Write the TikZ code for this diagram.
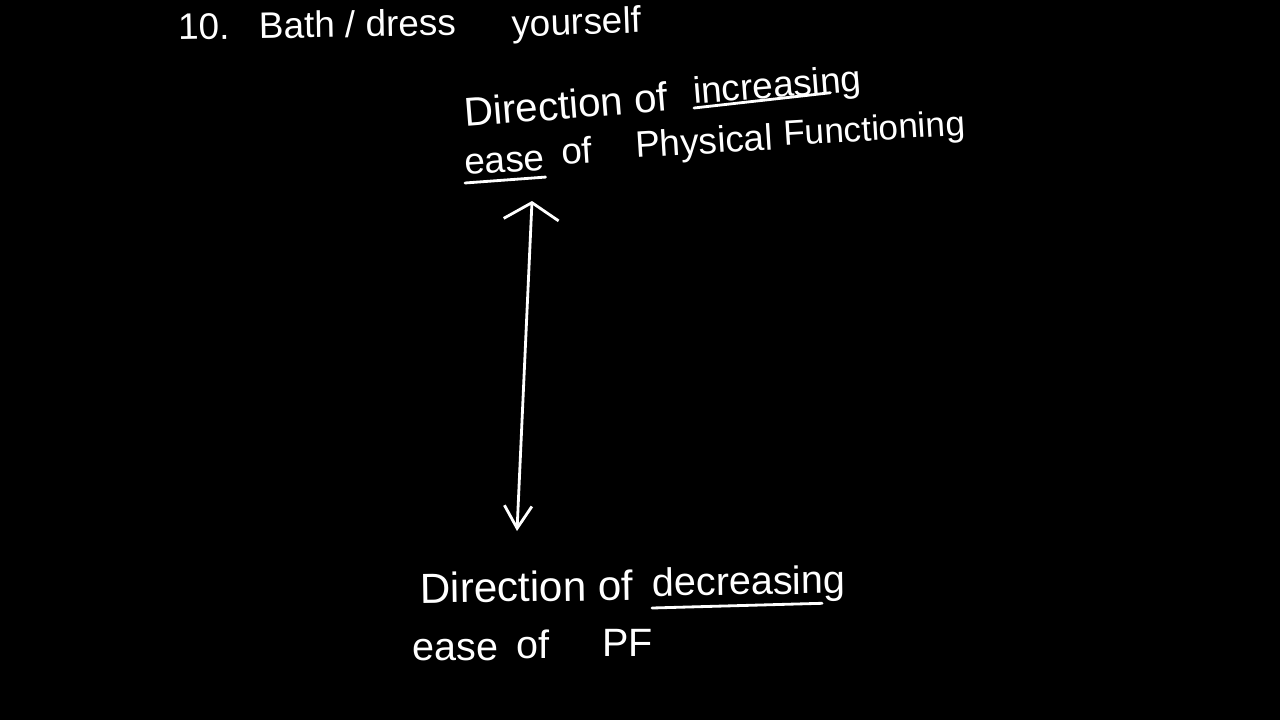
\documentclass[tikz,border=0pt]{standalone}
\usepackage{fontspec}
\setmainfont{Liberation Sans}
\usetikzlibrary{arrows.meta}
\begin{document}
\begin{tikzpicture}[x=0.02cm,y=-0.02cm,
  hand/.style={text=white,inner sep=0pt,anchor=base west,font=\fontsize{21}{25}\selectfont},
  big/.style={hand,font=\fontsize{22.5}{26}\selectfont},
  ink/.style={draw=white,line width=1.6pt,line cap=round}]
\fill[black] (0,0) rectangle (1280,720);
\useasboundingbox (0,0) rectangle (1280,720);
% top line
\node[hand,rotate=1] (t10) at (178,40) {10.\hspace{0.8em}Bath / dress};
\node[hand,rotate=2] (tyou) at (512,37) {yourself};
% upper label
\node[hand,rotate=4.5,font=\fontsize{23}{27}\selectfont] (dir1) at (465,127) {Direction of};
\node[hand,rotate=4.5] (inc) at (694,104) {increasing};
\node[hand,rotate=3.5] (ease1) at (465,175) {ease};
\node[hand,rotate=3.5] (of1) at (562,165) {of};
\node[hand,rotate=3.5] (phys) at (636,158) {Physical};
\node[hand,rotate=3.5,font=\fontsize{20}{24}\selectfont] (func) at (784,146) {Functioning};
\draw[ink] ([shift={(0,4)}]inc.base west) -- ([shift={(-32,2)}]inc.base east);
\draw[ink] ([shift={(0,8)}]ease1.base west) -- ([shift={(0,7)}]ease1.base east);
% arrow
\coordinate (atop) at (532,201);
\coordinate (abot) at (517,531);
\draw[ink,{Straight Barb[length=0.34cm,width=1.1cm]}-{Straight Barb[length=0.45cm,width=0.55cm]}] (atop) -- (abot);
% lower label
\node[big,rotate=0.8,font=\fontsize{24}{28}\selectfont] (dir2) at (420,603) {Direction of};
\node[big,rotate=0.8] (dec) at (652,596) {decreasing};
\node[big] (ease2) at (412,660) {ease};
\node[big] (of2) at (516,658) {of};
\node[big] (pf) at (602,656) {PF};
\draw[ink] ([shift={(0,12)}]dec.base west) -- ([shift={(-24,10)}]dec.base east);
\end{tikzpicture}
\end{document}
